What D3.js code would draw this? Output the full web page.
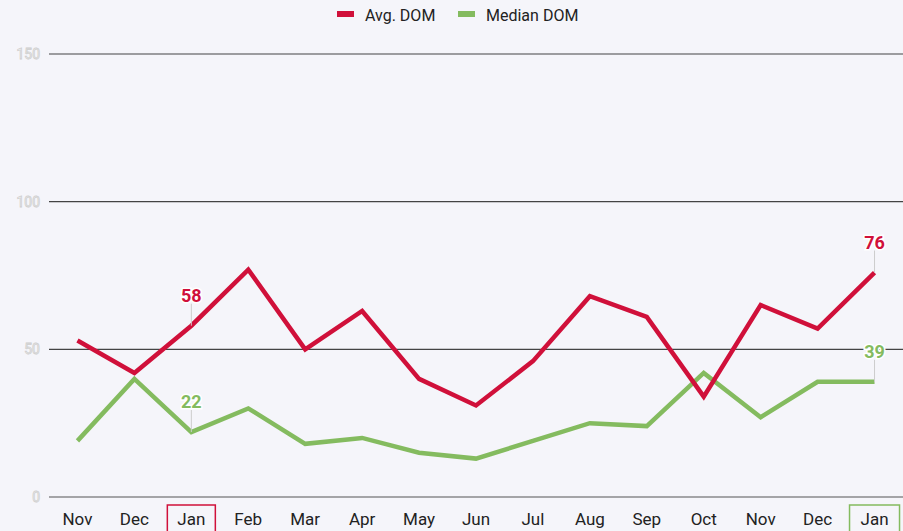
<!DOCTYPE html>
<html lang="en">
<head>
    <meta charset="utf-8">
    <title>DOM</title>
    <script src="https://d3js.org/d3.v7.min.js" charset="utf-8"></script>
    <style>
        body { margin: 0; background: #f5f5fa; }
        svg { display: block; font-family: Roboto, sans-serif; }
    </style>
</head>
<body>

    <script>

    var months = ["Nov","Dec","Jan","Feb","Mar","Apr","May","Jun","Jul","Aug","Sep","Oct","Nov","Dec","Jan"]
    var avgDom = [53,42,58,77,50,63,40,31,46,68,61,34,65,57,76]
    var medianDom = [19,40,22,30,18,20,15,13,19,25,24,42,27,39,39]
    var yTicks = [0,50,100,150]

    var w = 903, h = 531
    var red = "#d0103a", green = "#84bb5f"

    var svg = d3.select("body").append("svg").attr("width",w).attr("height",h)

    var xScale = d3.scaleBand().domain(d3.range(months.length)).range([49,903])
    var yScale = d3.scaleLinear().domain([0,150]).range([497,54])

    // grid + y labels
    svg.selectAll(".grid").data(yTicks).enter().append("line")
        .attr("x1",49).attr("x2",w)
        .attr("y1",function(d){return yScale(d)}).attr("y2",function(d){return yScale(d)})
        .attr("stroke",function(d){return d==0 ? "#555" : "#444"}).attr("stroke-width",1.2)

    svg.selectAll(".ylab").data(yTicks).enter().append("text")
        .attr("x",40).attr("y",function(d){return yScale(d)})
        .attr("dy","0.35em").attr("text-anchor","end")
        .attr("font-size",14).attr("fill","#fff").attr("stroke","#ccc").attr("stroke-width",0.8)
        .text(function(d){return d})

    // x labels
    var cx = function(i){return xScale(i) + xScale.bandwidth()/2}
    svg.selectAll(".xlab").data(months).enter().append("text")
        .attr("x",function(d,i){return cx(i)}).attr("y",519)
        .attr("dy","0.35em").attr("text-anchor","middle")
        .attr("font-size",17).attr("fill","#222")
        .text(function(d){return d})

    // highlight boxes
    svg.append("rect").attr("x",cx(2)-24).attr("y",505).attr("width",48).attr("height",30)
        .attr("fill","none").attr("stroke",red).attr("stroke-width",1.5)
    svg.append("rect").attr("x",cx(14)-25).attr("y",505).attr("width",50).attr("height",30)
        .attr("fill","none").attr("stroke",green).attr("stroke-width",1.5)

    var line = d3.line()
        .x(function(d,i){return cx(i)})
        .y(function(d){return yScale(d)})

    svg.append("path").datum(medianDom).attr("d",line).attr("fill","none")
        .attr("stroke",green).attr("stroke-width",4.5).attr("stroke-linejoin","miter")
    svg.append("path").datum(avgDom).attr("d",line).attr("fill","none")
        .attr("stroke",red).attr("stroke-width",4.5).attr("stroke-linejoin","miter")

    // callouts
    function callout(i, v, color) {
        var x = cx(i), y = yScale(v)
        svg.append("line").attr("x1",x).attr("x2",x).attr("y1",y).attr("y2",y-22)
            .attr("stroke","#ccc").attr("stroke-width",1)
        svg.append("text").attr("x",x).attr("y",y-30).attr("dy","0.35em")
            .attr("text-anchor","middle").attr("font-size",18).attr("font-weight","bold")
            .attr("fill",color).attr("stroke","#fff").attr("stroke-width",3).attr("paint-order","stroke")
            .text(v)
    }
    callout(2, avgDom[2], red)
    callout(14, avgDom[14], red)
    callout(2, medianDom[2], green)
    callout(14, medianDom[14], green)

    // legend
    var legend = [{name:"Avg. DOM", color:red, x:337}, {name:"Median DOM", color:green, x:458}]
    svg.selectAll(".lsw").data(legend).enter().append("rect")
        .attr("x",function(d){return d.x}).attr("y",11).attr("width",17).attr("height",6)
        .attr("fill",function(d){return d.color})
    svg.selectAll(".ltx").data(legend).enter().append("text")
        .attr("x",function(d){return d.x+28}).attr("y",15).attr("dy","0.35em")
        .attr("font-size",16).attr("fill","#222")
        .text(function(d){return d.name})

    </script>

</body>
</html>
